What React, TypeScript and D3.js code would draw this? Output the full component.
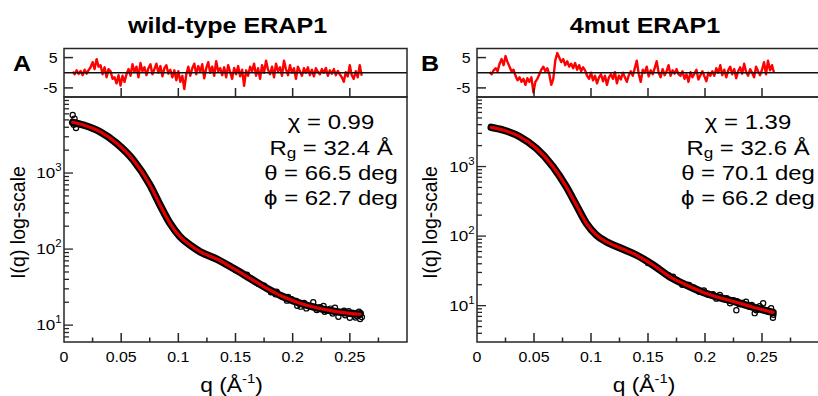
import React from 'react';
import * as d3 from 'd3';

const SX = 1.14;
const FONT = "'Liberation Sans', Arial, Helvetica, sans-serif";

// ---- wild-type ERAP1 ----
const wtFitQ = [0.0076, 0.0169, 0.0315, 0.0461, 0.0606, 0.0752, 0.084, 0.0927, 0.1015, 0.1102, 0.119, 0.1336, 0.1481, 0.1627, 0.1773, 0.1918, 0.2064, 0.221, 0.2355, 0.2502, 0.2589];
const wtFitI = [4650, 4285, 3500, 2460, 1485, 696, 380, 218, 145.5, 113, 92.5, 74, 55.9, 41.3, 30.5, 23.6, 19.4, 16.9, 15.3, 14.3, 13.9];
const wtPtsQ = [0.0076, 0.0092, 0.0105, 0.0085, 0.15, 0.16, 0.17, 0.175, 0.181, 0.186, 0.19, 0.195, 0.199, 0.204, 0.207, 0.21, 0.214, 0.218, 0.221, 0.224, 0.227, 0.23, 0.233, 0.237, 0.24, 0.243, 0.246, 0.249, 0.25, 0.253, 0.256, 0.259, 0.2595, 0.258, 0.2605, 0.255, 0.245, 0.235, 0.228, 0.212, 0.203, 0.196, 0.185];
const wtPtsI = [5800, 5200, 3900, 4300, 53, 46, 35, 33, 27, 27.5, 24, 21, 22, 18, 17.5, 19.5, 17.8, 20, 15.8, 17.2, 17.9, 15.5, 16.5, 16.9, 12.9, 14.9, 13.5, 15.3, 12.5, 14.5, 13.2, 12.0, 14.3, 15.0, 12.8, 12.6, 15.5, 14.2, 15.0, 16.6, 20.8, 23.5, 25.5];
const wtResRange = [0.0076, 0.2604];
const wtRes = [
  0.3, -0.5, 0.8, -0.4, 0.6, -0.8, 1.0, -0.3, 0.9,
  1.8, 3.5, 1.2, 4.5, 2.0,
  2.5, -0.5, 1.8, -1.5, 1.2, 0.5, -2.0,
  -1.5, -3.5, -0.8, -4.2, -1.0, -3.0, -0.5,
  1.2, -1.0, 2.8, 0.2, 2.0, -1.5, 3.2, 0.5, 1.8, -0.8,
  1.5, 2.8, -0.5, 1.2, 3.0, 0.0, 2.2, -1.2, 1.5, 2.5, -0.3, 1.0,
  -1.5, 0.8, -2.5, 0.5, -3.0, -1.0, -5.4, -0.5,
  2.0, -1.0, 1.5, 3.0, -0.5, 2.2, 0.3, 2.8, -1.8, 1.5, 3.5, 0.0, 2.0, -1.0, 3.8, 0.5, 1.5,
  -0.8, 1.8, -1.5, 2.5, 0.2, -2.0, 1.6, -0.5, 2.2, -1.2, 1.0, -4.3, 0.8, -1.0,
  2.0, 0.5, 3.0, -1.0, 1.5, -2.0, 2.5, 0.0, 4.0, 1.0, -0.5, 2.0, -1.5, 3.0, 0.5, 1.8, -1.0, 4.0, 1.2, -0.8, 2.5, 0.0, 1.5, -2.0, 2.0,
  0.5, -1.0, 1.5, 0.0, 1.8, -0.8, 1.0, -1.2, 1.5, 0.3, -0.5, 1.2, 0.0, 1.6, -1.0, 0.8, -0.3, 1.2, -0.8, 0.6,
  -0.5, -1.5, -3.0, 0.2, -1.2, 2.5, -0.8, -2.0, 0.5, -1.5, 2.5, -1.0,
];
const wtStats = ['0.99', '32.4', '66.5', '62.7'];

// ---- 4mut ERAP1 ----
const mutFitQ = [0.0125, 0.0228, 0.0375, 0.052, 0.0667, 0.0783, 0.0871, 0.0959, 0.1046, 0.1134, 0.1252, 0.1397, 0.1544, 0.169, 0.1836, 0.1982, 0.2129, 0.2275, 0.2421, 0.2596];
const mutFitI = [3665, 3355, 2686, 1829, 995, 513, 280, 153, 104, 83, 68, 53.5, 38.4, 26.1, 19.8, 15.6, 13.0, 11.2, 9.5, 8.0];
const mutPtsQ = [0.15, 0.16, 0.168, 0.172, 0.175, 0.18, 0.186, 0.19, 0.195, 0.199, 0.203, 0.207, 0.21, 0.213, 0.216, 0.219, 0.222, 0.225, 0.2275, 0.23, 0.233, 0.236, 0.239, 0.2436, 0.245, 0.248, 0.251, 0.253, 0.256, 0.258, 0.2596, 0.26, 0.241, 0.228];
const mutPtsI = [41, 33, 27.5, 26, 23.4, 20, 19.8, 18.2, 15.9, 16.5, 14.3, 14.6, 12.6, 14.2, 12.4, 12.8, 10.8, 12.0, 8.6, 10.5, 10.9, 11.4, 9.6, 7.8, 8.6, 9.8, 10.8, 8.7, 8.2, 9.2, 6.7, 7.4, 10.2, 11.6];
const mutResRange = [0.0111, 0.2605];
const mutRes = [
  0.2, -0.5, 0.8, 1.5, 0.5,
  3.0, 4.5, 2.5, 5.5, 3.5,
  2.0, 0.5, 1.0,
  -1.0, -2.5, -1.5, -3.0, -2.0, -4.0, -1.8, -3.0, -1.5,
  -6.5, -3.0,
  -2.0, -0.5, 1.0, 2.0, 0.5, 1.5, -0.5,
  -4.0, -2.0,
  4.0, 6.5, 5.0, 3.5,
  4.5, 2.5, 3.8, 2.0, 3.0, 1.5, 3.2, 1.0, 2.5, 0.5, 1.8, 0.8,
  -1.0, -2.0, 0.0, -2.5, -1.0, -3.5, -1.5, -0.5, -2.8, -1.0, -4.0, -1.5, -0.5, -2.0, 0.2, -3.5, -1.0, -2.2, 0.0, -1.5, -3.0, -0.8,
  0.5, -1.0, 1.5, 4.0, -0.5, -3.0, 1.0, 0.0, 2.0, -1.2, 0.8, -0.5, 1.5, 3.8, 0.0, -1.5, 1.2, -0.8, 0.5, 2.5, -1.0, 0.8, -0.3, 1.2, -0.5,
  -1.0, 0.5, -2.0, -0.5, -3.0, 0.2, -1.5, -0.3, 1.0, -2.2, -0.8, 0.5, -1.2, -2.8, 0.0, -1.0,
  0.5, -1.0, 1.5, 0.0, 2.5, -0.8, 1.0, -1.5, 0.8, 2.0, -0.5, 1.2, -1.8, 0.5, 1.8, -0.3, 3.0, 0.2, -1.0, 1.2, 0.0, -1.5, 2.0, 0.5, -0.8, 1.0, 3.5, -0.5, 4.0, 0.8, 2.5, 0.0,
];
const mutStats = ['1.39', '32.6', '70.1', '66.2'];

const xMajor = [0, 0.05, 0.1, 0.15, 0.2, 0.25];
const xMinor = [0.025, 0.075, 0.125, 0.175, 0.225, 0.275];
const xLabels = ['0', '0.05', '0.1', '0.15', '0.2', '0.25'];
const resTicks = [5, -5];
const resLabels = ['5', '-5'];

const RES_TOP = 48.5;
const MAIN_TOP = 97;
const MAIN_BOT = 342;

type PanelProps = {
  left: number;
  right: number;
  yMin: number;
  title: string;
  titleX: number;
  letter: string;
  letterX: number;
  ylabX: number;
  statsX: number;
  stats: string[];
  fitQ: number[];
  fitI: number[];
  ptsQ: number[];
  ptsI: number[];
  res: number[];
  resRange: number[];
};

const SText = ({ x, y, size, bold, anchor, children }: any) => (
  <g transform={`translate(${x},${y}) scale(${SX},1)`}>
    <text
      x={0}
      y={0}
      textAnchor={anchor || 'middle'}
      fontSize={size}
      fontWeight={bold ? 'bold' : 'normal'}
      fontFamily={FONT}
      fill="#000"
    >
      {children}
    </text>
  </g>
);

const Panel = (p: PanelProps) => {
  const x = d3.scaleLinear().domain([0, 0.3]).range([p.left, p.right]);
  const y = d3.scaleLog().domain([p.yMin, 10000]).range([MAIN_BOT, MAIN_TOP]);
  const yr = d3.scaleLinear().domain([-8, 8]).range([MAIN_TOP, RES_TOP]);
  const idx = d3.scaleLinear().domain([0, p.res.length - 1]).range(p.resRange);

  const fitPts: [number, number][] = p.fitQ.map((q, i) => [x(q), y(p.fitI[i])]);
  const fitLine = d3.line().curve(d3.curveMonotoneX)(fitPts) || '';
  const resLine =
    d3
      .line<number>()
      .x((_, i) => x(idx(i)))
      .y((v) => yr(v))(p.res) || '';

  const yTicks = y.ticks().filter((t) => t > p.yMin && t < 10000);
  const isMajor = (t: number) => Math.abs(Math.log10(t) - Math.round(Math.log10(t))) < 1e-6;
  const majors = [10, 100, 1000];
  const sup = ['1', '2', '3'];
  const stroke = '#262626';

  return (
    <g>
      {/* residual panel */}
      <path d={resLine} fill="none" stroke="#ff0000" strokeWidth={2.4} strokeLinejoin="round" />
      <line x1={p.left} x2={p.right} y1={yr(0)} y2={yr(0)} stroke="#111" strokeWidth={1.3} />
      <rect x={p.left} y={RES_TOP} width={p.right - p.left} height={MAIN_TOP - RES_TOP} fill="none" stroke={stroke} strokeWidth={1.5} />
      {xMajor.slice(1).map((t) => (
        <line key={'rt' + t} x1={x(t)} x2={x(t)} y1={MAIN_TOP} y2={MAIN_TOP - 9} stroke={stroke} strokeWidth={1.5} />
      ))}
      {resTicks.map((t, i) => (
        <g key={'ry' + t}>
          <line x1={p.left} x2={p.left + 9} y1={yr(t)} y2={yr(t)} stroke={stroke} strokeWidth={1.5} />
          <SText x={p.left - 6.5} y={yr(t) + 5} size={14} anchor="end">
            {resLabels[i]}
          </SText>
        </g>
      ))}

      {/* main panel data */}
      <path d={fitLine} fill="none" stroke="#000" strokeWidth={7.5} strokeLinecap="round" />
      {p.ptsQ.map((q, i) => (
        <circle key={'c' + i} cx={x(q)} cy={y(p.ptsI[i])} r={2.6} fill="none" stroke="#000" strokeWidth={1.2} />
      ))}
      <path d={fitLine} fill="none" stroke="#e00000" strokeWidth={3.2} strokeLinecap="round" />

      <rect x={p.left} y={MAIN_TOP} width={p.right - p.left} height={MAIN_BOT - MAIN_TOP} fill="none" stroke={stroke} strokeWidth={1.5} />
      {xMajor.slice(1).map((t) => (
        <line key={'xm' + t} x1={x(t)} x2={x(t)} y1={MAIN_BOT} y2={MAIN_BOT - 9} stroke={stroke} strokeWidth={1.5} />
      ))}
      {xMinor.map((t) => (
        <line key={'xn' + t} x1={x(t)} x2={x(t)} y1={MAIN_BOT} y2={MAIN_BOT - 4.5} stroke={stroke} strokeWidth={1.5} />
      ))}
      {xMajor.map((t, i) => (
        <SText key={'xl' + t} x={x(t)} y={361.5} size={14}>
          {xLabels[i]}
        </SText>
      ))}
      {yTicks.map((t) => (
        <line key={'yt' + t} x1={p.left} x2={p.left + (isMajor(t) ? 9 : 5)} y1={y(t)} y2={y(t)} stroke={stroke} strokeWidth={1.3} />
      ))}
      {majors.map((t, i) => (
        <g key={'yl' + t} transform={`translate(${p.left - 2.5},${y(t) + 5}) scale(${SX},1)`}>
          <text textAnchor="end" fontSize={15} fontFamily={FONT} fill="#000">
            10
            <tspan fontSize={10} dy={-7}>
              {sup[i]}
            </tspan>
          </text>
        </g>
      ))}

      {/* axis labels */}
      <g transform={`translate(${(p.left + p.right) / 2 - 4},392)`}>
        <g transform={`scale(${SX},1)`}>
          <text textAnchor="middle" fontSize={20} fontFamily={FONT} fill="#000">
            q (Å<tspan fontSize={13} dy={-9}>-1</tspan>
            <tspan dy={9}>)</tspan>
          </text>
        </g>
      </g>
      <text
        transform={`translate(${p.ylabX},222.5) rotate(-90)`}
        textAnchor="middle"
        fontSize={19.5}
        fontFamily={FONT}
        fill="#000"
      >
        I(q) log-scale
      </text>

      {/* titles */}
      <SText x={p.titleX} y={33.3} size={22} bold>
        {p.title}
      </SText>
      <SText x={p.letterX} y={71} size={22} bold anchor="start">
        {p.letter}
      </SText>

      {/* stats */}
      <SText x={p.statsX} y={129.3} size={21}>
        {'\u03C7 = ' + p.stats[0]}
      </SText>
      <g transform={`translate(${p.statsX},154.8) scale(${SX},1)`}>
        <text textAnchor="middle" fontSize={21} fontFamily={FONT} fill="#000">
          R<tspan fontSize={15} dy={3}>g</tspan>
          <tspan dy={-3}>{' = ' + p.stats[1] + ' Å'}</tspan>
        </text>
      </g>
      <SText x={p.statsX} y={180.1} size={21}>
        {'\u03B8 = ' + p.stats[2] + ' deg'}
      </SText>
      <SText x={p.statsX} y={205.4} size={21}>
        {'\u03D5 = ' + p.stats[3] + ' deg'}
      </SText>
    </g>
  );
};

export default function App() {
  return (
    <svg
      width={818}
      height={396}
      viewBox="0 0 818 396"
      style={{ position: 'absolute', left: 0, top: 0, background: '#fff' }}
    >
      <rect x={0} y={0} width={818} height={396} fill="#fff" />
      <Panel
        left={64}
        right={407}
        yMin={6}
        title="wild-type ERAP1"
        titleX={227.5}
        letter="A"
        letterX={13}
        ylabX={25}
        statsX={331}
        stats={wtStats}
        fitQ={wtFitQ}
        fitI={wtFitI}
        ptsQ={wtPtsQ}
        ptsI={wtPtsI}
        res={wtRes}
        resRange={wtResRange}
      />
      <Panel
        left={477}
        right={819}
        yMin={3}
        title="4mut ERAP1"
        titleX={645}
        letter="B"
        letterX={421}
        ylabX={437}
        statsX={748}
        stats={mutStats}
        fitQ={mutFitQ}
        fitI={mutFitI}
        ptsQ={mutPtsQ}
        ptsI={mutPtsI}
        res={mutRes}
        resRange={mutResRange}
      />
    </svg>
  );
}
